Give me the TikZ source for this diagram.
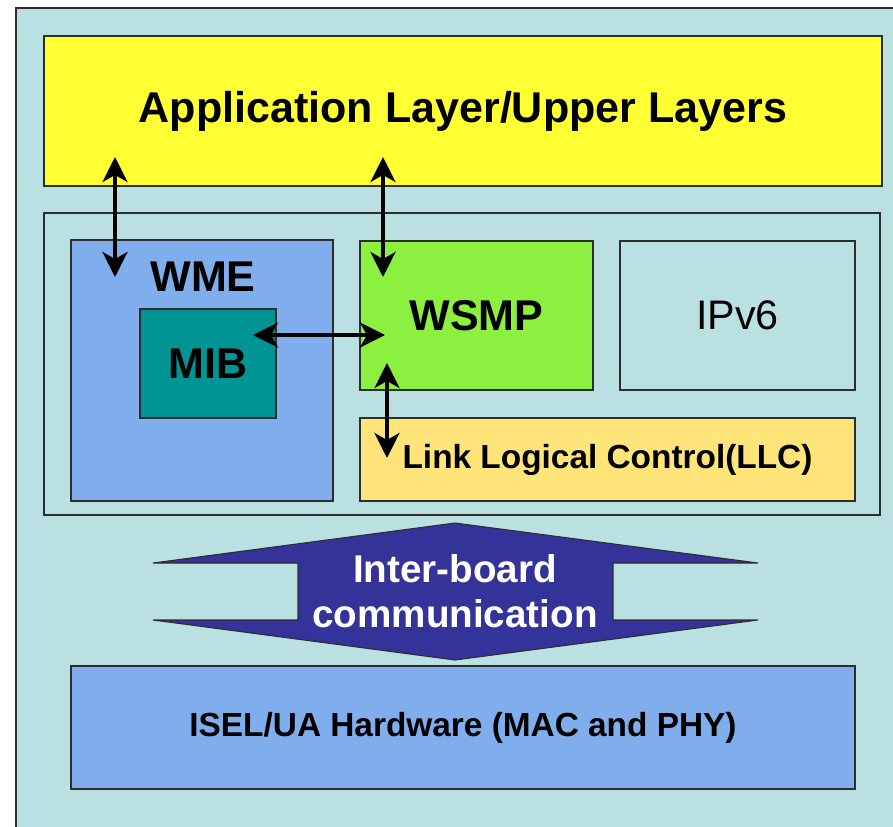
\documentclass[tikz,border=0pt]{standalone}
\usepackage{fontspec}
\setmainfont{Liberation Sans}
\usepackage{tikz}
\usetikzlibrary{arrows.meta, positioning, calc}

\definecolor{boardbg}{RGB}{186,224,226}
\definecolor{edgegray}{RGB}{45,45,45}
\definecolor{appyellow}{RGB}{255,255,51}
\definecolor{stackblue}{RGB}{128,173,235}
\definecolor{mibteal}{RGB}{0,148,148}
\definecolor{wsmpgreen}{RGB}{140,240,65}
\definecolor{llcyellow}{RGB}{255,228,122}
\definecolor{busblue}{RGB}{51,51,153}

\begin{document}
\begin{tikzpicture}[
    x=0.02cm, y=-0.02cm,
    box/.style={rectangle, draw=edgegray, line width=0.8pt, inner sep=0pt, align=center},
    big/.style={font=\bfseries\fontsize{24.5}{29}\selectfont},
    small/.style={font=\bfseries\fontsize{19}{23}\selectfont},
    link/.style={{Stealth[length=0.5cm, width=0.5cm, inset=0.14cm]}-{Stealth[length=0.5cm, width=0.5cm, inset=0.14cm]}, line width=2.2pt}
]
\useasboundingbox (0,0) rectangle (893,826);
\clip (0,0) rectangle (893,826);

% Board background
\draw[fill=boardbg, draw=edgegray, line width=1.1pt] (16,8) rectangle (920,850);

% Upper layers
\node[box, fill=appyellow, minimum width=16.76cm, minimum height=3cm, big] (app) at (463,111) {Application Layer/Upper Layers};

% Protocol stack frame
\node[box, minimum width=16.72cm, minimum height=6.04cm] (stack) at (462,364) {};

% WME with MIB
\node[box, fill=stackblue, minimum width=5.24cm, minimum height=5.22cm] (wme) at (202,370.5) {};
\node[big] (wmetext) at (203,277) {WME};
\node[box, fill=mibteal, minimum width=2.72cm, minimum height=2.18cm, big] (mib) at (208,363.5) {MIB};

% WSMP and IPv6
\node[box, fill=wsmpgreen, minimum width=4.66cm, minimum height=2.98cm, big] (wsmp) at (476.5,315.5) {WSMP};
\node[box, minimum width=4.70cm, minimum height=2.98cm, font=\fontsize{23.5}{28}\selectfont] (ipv6) at (737.5,315.5) {IPv6};

% LLC
\node[box, fill=llcyellow, minimum width=9.9cm, minimum height=1.66cm, small] (llc) at (607.5,459.5) {Link Logical Control(LLC)};

% Inter-board communication
\draw[fill=busblue, draw=edgegray, line width=0.6pt]
    (455,523) -- (758,563) -- (613,563) -- (613,620) -- (758,620)
    -- (455,660) -- (153,620) -- (298,620) -- (298,563) -- (153,563) -- cycle;
\node[text=white, font=\bfseries\fontsize{22}{25.5}\selectfont, align=center] (comm) at (455,591) {Inter-board\\communication};

% Hardware
\node[box, fill=stackblue, minimum width=15.68cm, minimum height=2.46cm, small] (hw) at (463,727.5) {ISEL/UA Hardware (MAC and PHY)};

% Arrow ends
\coordinate (appA) at (115,157);
\coordinate (wmeA) at (115,277);
\coordinate (appB) at (383,157);
\coordinate (wsmpA) at (383,277);
\coordinate (mibA) at (253,335);
\coordinate (wsmpB) at (385,335);
\coordinate (wsmpC) at (387,363);
\coordinate (llcA) at (387,458);

% Arrows
\draw[link] (appA) -- (wmeA);
\draw[link] (appB) -- (wsmpA);
\draw[link] (mibA) -- (wsmpB);
\draw[link] (wsmpC) -- (llcA);

\end{tikzpicture}
\end{document}
